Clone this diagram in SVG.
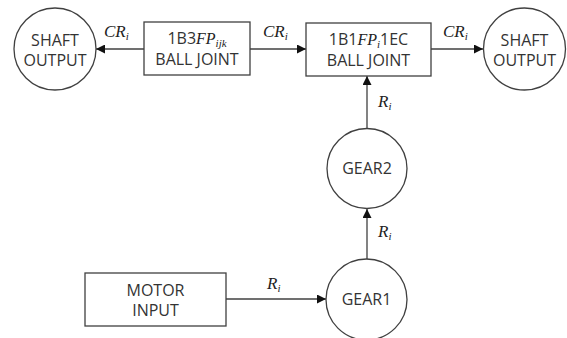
<svg xmlns="http://www.w3.org/2000/svg" width="567" height="338" viewBox="0 0 567 338">
<style>
.n{fill:#fff;stroke:#404040;stroke-width:1.3}
.t{font-family:"Open Sans","Noto Sans",sans-serif;font-size:16px;fill:#333;text-anchor:middle}
.m{font-family:"Liberation Serif",serif;font-style:italic;font-size:17px;fill:#222}
.s{font-size:11px}
.e{fill:none;stroke:#404040;stroke-width:1.3}
</style>
<defs>
<marker id="ah" viewBox="0 0 10 10" refX="10" refY="5" markerWidth="9" markerHeight="9" markerUnits="userSpaceOnUse" orient="auto">
<path d="M0,0 L10,5 L0,10 z" fill="#111"/>
</marker>
</defs>
<rect width="567" height="338" fill="#fff"/>
<g id="connectors">
<line class="e" x1="144" y1="49" x2="96" y2="49" marker-end="url(#ah)"/>
<line class="e" x1="250" y1="49" x2="306" y2="49" marker-end="url(#ah)"/>
<line class="e" x1="431" y1="49" x2="483" y2="49" marker-end="url(#ah)"/>
<line class="e" x1="367" y1="129" x2="367" y2="76" marker-end="url(#ah)"/>
<line class="e" x1="367" y1="259" x2="367" y2="209" marker-end="url(#ah)"/>
<line class="e" x1="226" y1="299" x2="326" y2="299" marker-end="url(#ah)"/>
<text class="m" x="104" y="37">CR<tspan class="s" dy="3">i</tspan></text>
<text class="m" x="263" y="37">CR<tspan class="s" dy="3">i</tspan></text>
<text class="m" x="443" y="37">CR<tspan class="s" dy="3">i</tspan></text>
<text class="m" x="378" y="107">R<tspan class="s" dy="3">i</tspan></text>
<text class="m" x="378" y="237">R<tspan class="s" dy="3">i</tspan></text>
<text class="m" x="267" y="289">R<tspan class="s" dy="3">i</tspan></text>
</g>
<g id="shaft-left">
<circle class="n" cx="55" cy="49" r="41"/>
<text class="t" x="55" y="46">SHAFT</text>
<text class="t" x="55" y="66">OUTPUT</text>
</g>
<g id="ball-joint-1b3">
<rect class="n" x="144" y="22" width="106" height="53"/>
<text class="t" x="197" y="44">1B3<tspan class="m" style="font-size:16px">FP</tspan><tspan class="m s" dy="3">ijk</tspan></text>
<text class="t" x="197" y="65">BALL JOINT</text>
</g>
<g id="ball-joint-1b1">
<rect class="n" x="306" y="23" width="125" height="53"/>
<text class="t" x="368.5" y="45">1B1<tspan class="m" style="font-size:16px">FP</tspan><tspan class="m s" dy="3">i</tspan><tspan dy="-3">1EC</tspan></text>
<text class="t" x="368.5" y="66">BALL JOINT</text>
</g>
<g id="shaft-right">
<circle class="n" cx="524.5" cy="49" r="41"/>
<text class="t" x="524.5" y="46">SHAFT</text>
<text class="t" x="524.5" y="66">OUTPUT</text>
</g>
<g id="gear2">
<circle class="n" cx="367" cy="168.5" r="40"/>
<text class="t" x="367" y="174">GEAR2</text>
</g>
<g id="gear1">
<circle class="n" cx="366.5" cy="299.5" r="40.5"/>
<text class="t" x="366.5" y="305">GEAR1</text>
</g>
<g id="motor-input">
<rect class="n" x="85" y="273" width="141" height="53"/>
<text class="t" x="155.5" y="296">MOTOR</text>
<text class="t" x="155.5" y="316">INPUT</text>
</g>
</svg>
